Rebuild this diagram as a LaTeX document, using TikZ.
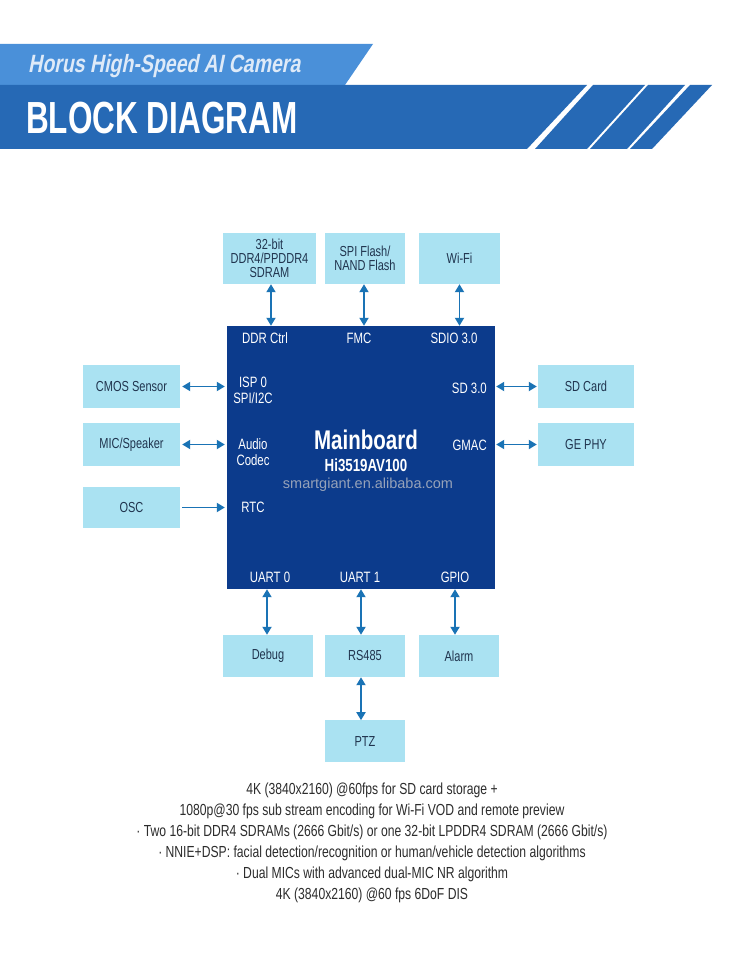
\documentclass[tikz,border=0pt]{standalone}
\usepackage{fontspec}
\setmainfont{Liberation Sans}
\newfontfamily\condfont[FakeStretch=0.76]{Liberation Sans}
\newfontfamily\headfont[FakeStretch=0.7]{Liberation Sans}
\newfontfamily\subheadfont[FakeStretch=0.78,FakeSlant=0.2]{Liberation Sans}
\usetikzlibrary{positioning,arrows.meta}
\definecolor{bannerlight}{RGB}{74,144,217}
\definecolor{bannerdark}{RGB}{38,105,181}
\definecolor{subheadtxt}{RGB}{222,234,248}
\definecolor{chipblue}{RGB}{12,59,140}
\definecolor{periph}{RGB}{170,226,242}
\definecolor{periphtxt}{RGB}{32,52,78}
\definecolor{linkblue}{RGB}{26,115,181}
\definecolor{notetxt}{RGB}{45,45,45}
\definecolor{wmark}{RGB}{150,162,185}
\tikzset{
periphbox/.style={fill=periph,draw=none,inner sep=0pt,align=center,
font=\condfont\fontsize{14.5}{13.8}\selectfont,text=periphtxt,minimum height=43pt},
chip/.style={fill=chipblue,draw=none,minimum width=268pt,minimum height=263pt,inner sep=0pt},
port/.style={text=white,align=center,inner sep=0pt,font=\condfont\fontsize{15}{16}\selectfont},
link/.style={{Triangle[length=8pt,width=9pt]}-{Triangle[length=8pt,width=9pt]},line width=1.8pt,linkblue},
linkone/.style={-{Triangle[length=8pt,width=9pt]},line width=1.8pt,linkblue},
notes/.style={align=center,text=notetxt,inner sep=0pt,font=\condfont\fontsize{16}{21}\selectfont}
}
\begin{document}
\begin{tikzpicture}[x=1pt,y=-1pt]
\useasboundingbox (0,0) rectangle (737,960);
\fill[white] (0,0) rectangle (737,960);
\fill[bannerlight] (0,44) -- (373,44) -- (345,85) -- (0,85) -- cycle;
\fill[bannerdark] (0,85) -- (587,85) -- (527,149) -- (0,149) -- cycle;
\fill[bannerdark] (593,85) -- (645,85) -- (587,149) -- (535,149) -- cycle;
\fill[bannerdark] (648,85) -- (685,85) -- (627,149) -- (590,149) -- cycle;
\fill[bannerdark] (690,85) -- (712,85) -- (652,149) -- (630,149) -- cycle;
\node[anchor=base west,inner sep=0pt,text=subheadtxt,font=\subheadfont\bfseries\fontsize{25}{25}\selectfont] (subtitle) at (28,73) {Horus High-Speed AI Camera};
\node[anchor=base west,inner sep=0pt,text=white,font=\headfont\bfseries\fontsize{45}{45}\selectfont] (title) at (26,134) {BLOCK DIAGRAM};

\node[chip] (main) at (361,457.5) {};
\node[text=white,inner sep=0pt,font=\condfont\bfseries\fontsize{27}{27}\selectfont] (mbname) at (366,440) {Mainboard};
\node[text=white,inner sep=0pt,font=\condfont\bfseries\fontsize{17.5}{17.5}\selectfont] (socname) at (366,465) {Hi3519AV100};
\node[text=wmark,inner sep=0pt,font=\fontsize{14.5}{14.5}\selectfont] (wm) at (368,485) {smartgiant.en.alibaba.com};

\node[port] (ddrctrl) at (265,338) {DDR Ctrl};
\node[port] (fmc) at (359,338) {FMC};
\node[port] (sdio) at (454,338) {SDIO 3.0};
\node[port] (isp) at (253,390) {ISP 0\\SPI/I2C};
\node[port] (audio) at (253,452) {Audio\\Codec};
\node[port] (rtc) at (253,507) {RTC};
\node[port,anchor=east] (sdport) at (487,388) {SD 3.0};
\node[port,anchor=east] (gmac) at (487,445) {GMAC};
\node[port] (uarta) at (270,577) {UART 0};
\node[port] (uartb) at (360,577) {UART 1};
\node[port] (gpio) at (455,577) {GPIO};

\node[periphbox,minimum width=93pt,minimum height=51pt] (ddr) at (269.5,258.5) {32-bit\\DDR4/PPDDR4\\SDRAM};
\node[periphbox,minimum width=80pt,minimum height=51pt] (flash) at (365,258.5) {SPI Flash/\\NAND Flash};
\node[periphbox,minimum width=81pt,minimum height=51pt] (wifi) at (459.5,258.5) {Wi-Fi};
\node[periphbox,minimum width=97pt] (cmos) at (131.5,386.5) {CMOS Sensor};
\node[periphbox,minimum width=97pt] (mic) at (131.5,444.5) {MIC/Speaker};
\node[periphbox,minimum width=97pt,minimum height=41pt] (osc) at (131.5,507.5) {OSC};
\node[periphbox,minimum width=96pt] (sdcard) at (586,386.5) {SD Card};
\node[periphbox,minimum width=96pt] (gephy) at (586,444.5) {GE PHY};
\node[periphbox,minimum width=90pt,minimum height=42pt] (debug) at (268,656) {Debug};
\node[periphbox,minimum width=80pt,minimum height=42pt] (rs485) at (365,656) {RS485};
\node[periphbox,minimum width=80pt,minimum height=42pt] (alarm) at (459,656) {Alarm};
\node[periphbox,minimum width=80pt,minimum height=42pt,below=43pt of rs485] (ptz) {PTZ};

\draw[link] ([xshift=1.5pt]ddr.south) -- ([xshift=1.5pt]ddr.south |- main.north);
\draw[link] ([xshift=-1pt]flash.south) -- ([xshift=-1pt]flash.south |- main.north);
\draw[link] (wifi.south) -- (wifi.south |- main.north);
\draw[link,shorten <=2pt,shorten >=2pt] (cmos.east) -- (cmos.east -| main.west);
\draw[link,shorten <=2pt,shorten >=2pt] (mic.east) -- (mic.east -| main.west);
\draw[linkone,shorten <=2pt,shorten >=2pt] (osc.east) -- (osc.east -| main.west);
\draw[link,shorten <=1pt,shorten >=1pt] (sdcard.west -| main.east) -- (sdcard.west);
\draw[link,shorten <=1pt,shorten >=1pt] (gephy.west -| main.east) -- (gephy.west);
\draw[link] ([xshift=-1pt]debug.north |- main.south) -- ([xshift=-1pt]debug.north);
\draw[link] ([xshift=-4pt]rs485.north |- main.south) -- ([xshift=-4pt]rs485.north);
\draw[link] ([xshift=-4pt]alarm.north |- main.south) -- ([xshift=-4pt]alarm.north);
\draw[link] ([xshift=-4pt]rs485.south) -- ([xshift=-4pt]ptz.north);

\node[notes] (spec) at (372,842.5) {4K (3840x2160) @60fps for SD card storage +\\
1080p@30 fps sub stream encoding for Wi-Fi VOD and remote preview\\
· Two 16-bit DDR4 SDRAMs (2666 Gbit/s) or one 32-bit LPDDR4 SDRAM (2666 Gbit/s)\\
· NNIE+DSP: facial detection/recognition or human/vehicle detection algorithms\\
· Dual MICs with advanced dual-MIC NR algorithm\\
4K (3840x2160) @60 fps 6DoF DIS};
\end{tikzpicture}
\end{document}
